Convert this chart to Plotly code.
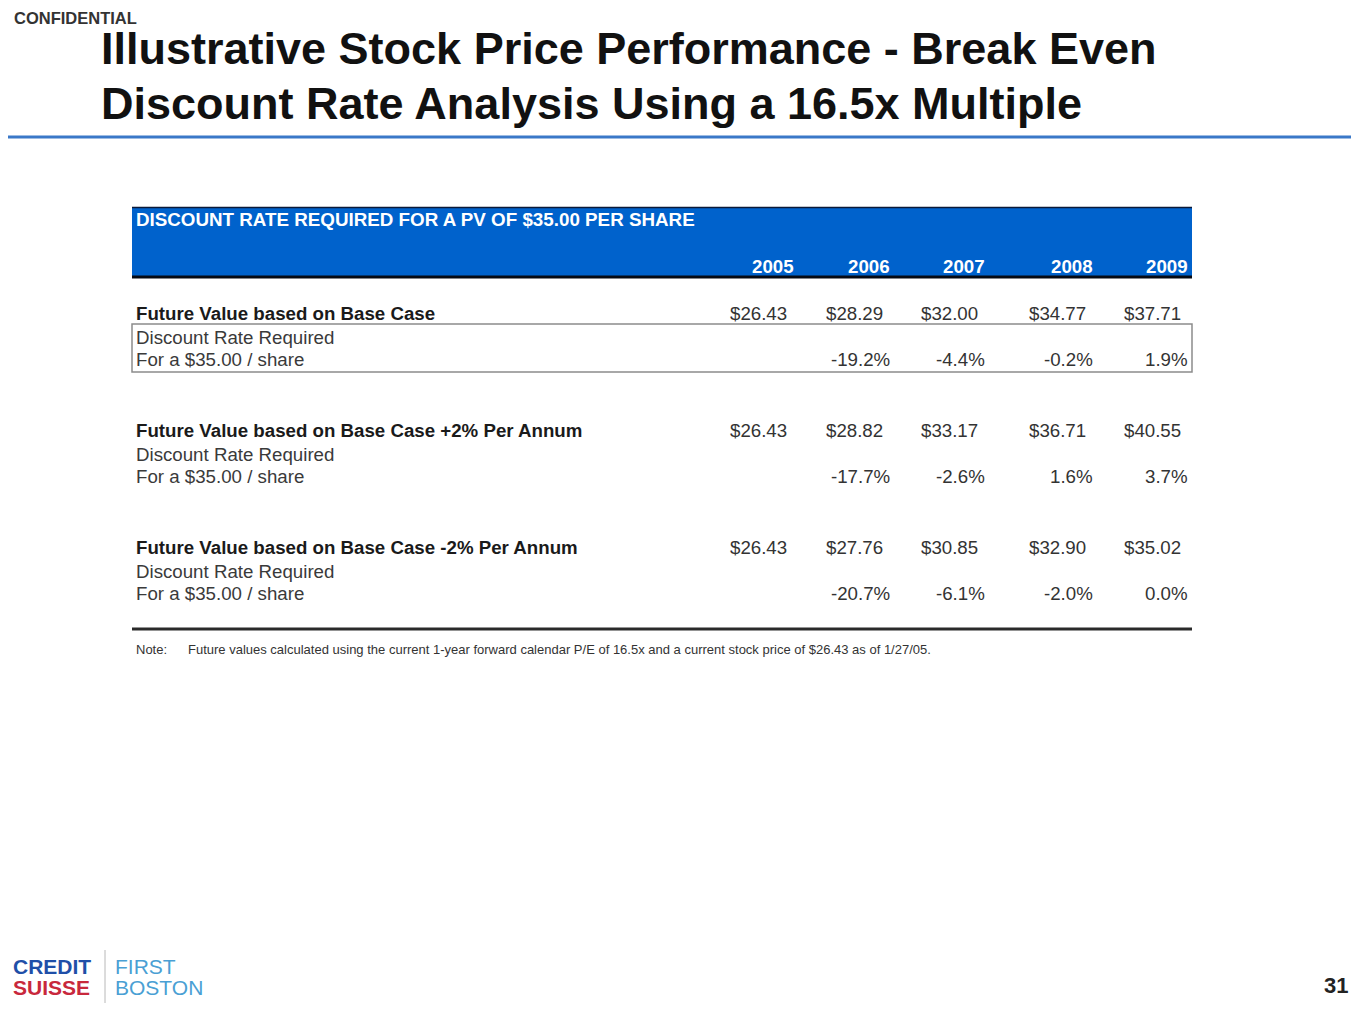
import plotly.graph_objects as go

# ---------------- data ----------------
years = ["2005", "2006", "2007", "2008", "2009"]
row_titles = [
    "Future Value based on Base Case",
    "Future Value based on Base Case +2% Per Annum",
    "Future Value based on Base Case -2% Per Annum",
]
sub_labels = ["Discount Rate Required", "For a $35.00 / share"]
base_fv = [26.43, 28.29, 32.00, 34.77, 37.71]
base_dr = [None, -19.2, -4.4, -0.2, 1.9]
plus_fv = [26.43, 28.82, 33.17, 36.71, 40.55]
plus_dr = [None, -17.7, -2.6, 1.6, 3.7]
minus_fv = [26.43, 27.76, 30.85, 32.90, 35.02]
minus_dr = [None, -20.7, -6.1, -2.0, 0.0]

title_lines = [
    "Illustrative Stock Price Performance - Break Even",
    "Discount Rate Analysis Using a 16.5x Multiple",
]
header_text = "DISCOUNT RATE REQUIRED FOR A PV OF $35.00 PER SHARE"
note_label = "Note:"
note_text = ("Future values calculated using the current 1-year forward calendar "
             "P/E of 16.5x and a current stock price of $26.43 as of 1/27/05.")
confidential = "CONFIDENTIAL"
page_number = "31"
logo_left = ["CREDIT", "SUISSE"]
logo_right = ["FIRST", "BOSTON"]

# ---------------- layout helpers ----------------
W, H = 1359, 1020
OFF = 8  # page body margin offset
FONT = "Arial, Liberation Sans, sans-serif"
col_right = [794, 890, 985, 1093, 1188]   # right edges of year columns
row_y = [313, 430, 547]                   # y of the future value rows
sub_dy = [24, 46]                         # offsets of the two sub label lines

fig = go.Figure()
fig.add_trace(go.Scatter(x=[0, W], y=[0, H], mode="markers",
                         marker=dict(opacity=0), hoverinfo="skip", showlegend=False))

ann = []
shapes = []

def text(x, y, s, size, color="#222", bold=False, anchor="left", family=FONT):
    if bold:
        s = "<b>" + s + "</b>"
    ann.append(dict(x=x, y=y, xref="x", yref="y", text=s, showarrow=False,
                    xanchor=anchor, yanchor="middle", borderpad=0,
                    font=dict(size=size, color=color, family=family)))

def hline(x0, x1, y, color, width):
    shapes.append(dict(type="line", x0=x0, x1=x1, y0=y, y1=y, xref="x", yref="y",
                       line=dict(color=color, width=width)))

# Confidential + title
text(13, 18, confidential, 16.5, "#333", bold=True)
text(100, 48, title_lines[0], 45, "#111", bold=True)
text(100, 103, title_lines[1], 45, "#111", bold=True)
hline(0, W + OFF, 137, "#3A78C8", 3)

# Header band
shapes.append(dict(type="rect", x0=132, x1=1192, y0=207, y1=278, xref="x", yref="y",
                   fillcolor="#0062CC", line=dict(width=0), layer="below"))
hline(132, 1192, 207.5, "#0A1A3A", 1.5)
hline(132, 1192, 277, "#050A14", 3)
text(135, 219, header_text, 18.8, "#FFFFFF", bold=True)
for yr, xr in zip(years, col_right):
    text(xr + 1, 266, yr, 18.7, "#FFFFFF", bold=True, anchor="right")

# Box around base case discount rows
shapes.append(dict(type="rect", x0=132, x1=1192, y0=324, y1=372, xref="x", yref="y",
                   line=dict(color="#8C8C8C", width=1.5), fillcolor="rgba(0,0,0,0)"))

fvs = [base_fv, plus_fv, minus_fv]
drs = [base_dr, plus_dr, minus_dr]
for title, y0, fv, dr in zip(row_titles, row_y, fvs, drs):
    text(135, y0, title, 18.7, "#1A1A1A", bold=True)
    for lab, dy in zip(sub_labels, sub_dy):
        text(135, y0 + dy, lab, 18.7, "#3A3A3A")
    for v, xr in zip(fv, col_right):
        text(xr - 6, y0, "${:.2f}".format(v), 18.7, "#333", anchor="right")
    for d, xr in zip(dr, col_right):
        if d is not None:
            text(xr + 1, y0 + sub_dy[1], "{:.1f}%".format(d), 18.7, "#333", anchor="right")

# Bottom rule and note
hline(132, 1192, 629, "#2A2A2A", 3)
text(135, 649, note_label, 13, "#333")
text(187, 649, note_text, 13, "#333")

# Logo
text(12, 966, logo_left[0], 21, "#1F4FA8", bold=True)
text(12, 987, logo_left[1], 21, "#C8283C", bold=True)
shapes.append(dict(type="line", x0=105, x1=105, y0=950, y1=1003, xref="x", yref="y",
                   line=dict(color="#B8B8B8", width=1)))
text(114, 966, logo_right[0], 21, "#4A9FD4")
text(114, 987, logo_right[1], 21, "#4A9FD4")

# Page number
text(1349, 985, page_number, 22, "#222", bold=True, anchor="right")

fig.update_layout(
    width=W, height=H,
    margin=dict(l=0, r=0, t=0, b=0),
    paper_bgcolor="white", plot_bgcolor="white",
    xaxis=dict(range=[OFF, W + OFF], visible=False, fixedrange=True),
    yaxis=dict(range=[H + OFF, OFF], visible=False, fixedrange=True),
    annotations=ann, shapes=shapes, showlegend=False,
)

fig.write_html("out.html")
